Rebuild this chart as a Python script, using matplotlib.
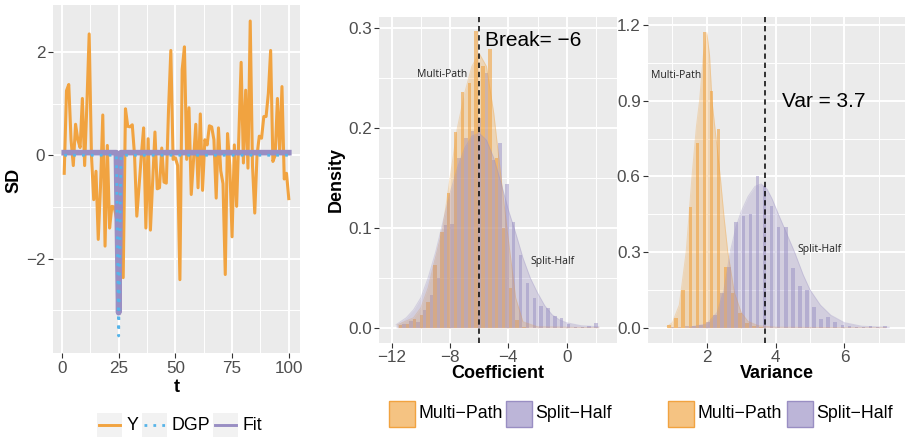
import numpy as np
import matplotlib
matplotlib.use("Agg")
import matplotlib.pyplot as plt
from matplotlib.patches import Rectangle
from matplotlib.lines import Line2D
from matplotlib.ticker import FormatStrFormatter

plt.rcParams['font.family'] = ['Liberation Sans', 'DejaVu Sans']

# ---------------- data ----------------
# time series panel
t = list(range(1, 101))
y_obs = [-0.35, 1.25, 1.37, 0.3, -0.2, 0.6, 0.3, 0.15, 1.1, -0.2,
         1.0, 2.35, 0.0, -0.86, -0.31, -1.63, -0.6, 0.78, -1.76, 0.19,
         -1.41, -0.99, -1.0, -1.21, -1.3, -0.8, -2.37, 0.9, 0.56, 0.55,
         0.59, 0.0, -1.18, -0.6, 0.0, 0.53, -1.41, 0.32, -1.45, -0.5,
         0.45, -0.65, -0.63, 0.14, -0.52, -0.54, 0.9, 2.03, -0.08, -0.05,
         -0.2, -2.41, 1.66, 2.1, -0.08, 0.92, -0.76, -0.1, 0.6, -0.63,
         0.8, -0.68, 0.3, 0.2, 0.57, 0.55, 0.3, -0.83, 0.53, -0.3,
         -0.55, -2.31, 0.42, -0.2, -1.58, 0.2, -0.99, 0.4, 1.8, -0.15,
         1.26, -0.25, 2.6, -0.2, -1.12, 0.0, 0.37, 0.33, 0.75, 0.75,
         1.2, 2.03, -0.12, 0.0, 1.1, 0.05, 1.33, -0.46, -0.35, -0.84]
dgp_t = [1, 24, 25, 26, 100]
dgp_v = [0.0, 0.0, -3.5, 0.0, 0.0]
fit_t = [1, 24, 25, 26, 100]
fit_v = [0.05, 0.05, -3.05, 0.05, 0.05]

# coefficient histograms (density per bin)
coef_bin_start, coef_bin_width = -11.5, 0.47
coef_multi = [0.003, 0.004, 0.009, 0.013, 0.026, 0.063, 0.096, 0.135, 0.196, 0.236,
              0.245, 0.297, 0.262, 0.279, 0.17, 0.10, 0.04, 0.008, 0.001, 0.0,
              0.0, 0.0, 0.0, 0.0, 0.0, 0.0, 0.0, 0.0, 0.0]
coef_split = [0.004, 0.007, 0.006, 0.018, 0.033, 0.05, 0.103, 0.104, 0.17, 0.19,
              0.197, 0.21, 0.255, 0.168, 0.185, 0.144, 0.106, 0.073, 0.045, 0.03,
              0.022, 0.02, 0.012, 0.01, 0.004, 0.001, 0.001, 0.002, 0.005]
# coefficient density curves
coef_dens_multi_x = [-11.6, -10.5, -10.0, -9.5, -9.0, -8.5, -8.0, -7.5, -7.0, -6.5,
                     -6.0, -5.5, -5.0, -4.5, -4.1, -3.5, -3.0, -2.0, 2.2]
coef_dens_multi_y = [0.003, 0.01, 0.02, 0.04, 0.07, 0.10, 0.15, 0.20, 0.235, 0.262,
                     0.275, 0.262, 0.215, 0.15, 0.10, 0.03, 0.006, 0.001, 0.0]
coef_dens_split_x = [-11.7, -11.0, -10.5, -10.0, -9.5, -9.0, -8.5, -8.0, -7.5, -7.0,
                     -6.5, -6.0, -5.5, -5.0, -4.5, -4.0, -3.5, -3.0, -2.5, -2.0,
                     -1.5, -1.0, -0.5, 0.0, 1.0, 2.2]
coef_dens_split_y = [0.003, 0.01, 0.018, 0.03, 0.05, 0.075, 0.105, 0.135, 0.16, 0.18,
                     0.192, 0.195, 0.188, 0.17, 0.145, 0.118, 0.095, 0.07, 0.05, 0.035,
                     0.022, 0.013, 0.008, 0.005, 0.002, 0.001]

# variance histograms
var_bin_start, var_bin_width = 0.8525, 0.2055
var_multi = [0.01, 0.037, 0.15, 0.48, 0.733, 1.174, 0.94, 0.786, 0.242, 0.139,
             0.057, 0.017, 0.008, 0.002, 0.0, 0.0, 0.0, 0.0, 0.0, 0.0,
             0.0, 0.0, 0.0, 0.0, 0.0, 0.0, 0.0, 0.0, 0.0, 0.0, 0.0]
var_split = [0.003, 0.003, 0.005, 0.005, 0.01, 0.024, 0.05, 0.136, 0.24, 0.42,
             0.443, 0.45, 0.603, 0.56, 0.484, 0.40, 0.40, 0.235, 0.167, 0.15,
             0.083, 0.034, 0.044, 0.024, 0.01, 0.005, 0.004, 0.003, 0.005, 0.004, 0.005]
var_dens_multi_x = [0.85, 1.0, 1.2, 1.4, 1.57, 1.7, 1.79, 1.9, 2.0, 2.08,
                    2.15, 2.27, 2.39, 2.5, 2.61, 2.8, 3.0, 3.2, 3.5, 4.0, 5.0, 7.2]
var_dens_multi_y = [0.005, 0.02, 0.09, 0.3, 0.6, 0.8, 0.9, 1.08, 1.17, 1.08,
                    0.9, 0.75, 0.6, 0.44, 0.3, 0.14, 0.06, 0.025, 0.008, 0.002, 0.001, 0.0]
var_dens_split_x = [1.5, 2.0, 2.3, 2.5, 2.68, 2.85, 3.0, 3.2, 3.4, 3.58,
                    3.75, 3.9, 4.08, 4.3, 4.55, 4.8, 5.0, 5.3, 5.6, 6.0, 6.5, 7.0, 7.3]
var_dens_split_y = [0.002, 0.015, 0.06, 0.15, 0.3, 0.4, 0.46, 0.52, 0.56, 0.57,
                    0.55, 0.51, 0.45, 0.38, 0.3, 0.21, 0.15, 0.09, 0.05, 0.02, 0.006, 0.003, 0.002]

coef_break = -6
var_true = 3.7

# ---------------- style ----------------
ORANGE = '#f1a340'
PURPLE = '#998ec3'
SKY = '#56b4e9'
BG = '#ebebeb'
TXT = '#4d4d4d'

W, H = 905, 438
fig = plt.figure(figsize=(W / 100, H / 100), dpi=100)


def fx(px):
    return px / W


def fy(py):
    return 1 - py / H


def add_axes_px(left, top, right, bottom):
    return fig.add_axes([fx(left), fy(bottom), (right - left) / W, (bottom - top) / H])


def gg_theme(ax, xmaj, xmin, ymaj, ymin, xlim, ylim):
    ax.set_facecolor(BG)
    for s in ax.spines.values():
        s.set_visible(False)
    ax.set_xlim(xlim)
    ax.set_ylim(ylim)
    ax.set_xticks(xmaj)
    ax.set_xticks(xmin, minor=True)
    ax.set_yticks(ymaj)
    ax.set_yticks(ymin, minor=True)
    ax.grid(True, which='major', color='white', lw=1.4)
    ax.grid(True, which='minor', color='white', lw=0.7)
    ax.set_axisbelow(True)
    ax.tick_params(which='major', length=3.5, width=0.8, color='#333333',
                   labelsize=12.3, labelcolor=TXT, pad=2)
    ax.tick_params(which='minor', length=0)


# ---------------- panel 1: series ----------------
ax1 = add_axes_px(53, 5, 300, 353)
gg_theme(ax1, [0, 25, 50, 75, 100], [12.5, 37.5, 62.5, 87.5],
         [-2, 0, 2], [-3, -1, 1], (-3.95, 104.95), (-3.83, 2.91))
ax1.plot(t, y_obs, color=ORANGE, lw=2.2, solid_joinstyle='round', zorder=3)
ax1.plot(fit_t, fit_v, color=PURPLE, lw=4.1, solid_joinstyle='round', zorder=4)
ax1.plot(dgp_t, dgp_v, color=SKY, lw=2.0, linestyle=(0, (1, 2.2)), zorder=5)

fig.text(fx(14), fy(180), 'SD', rotation=90, ha='center', va='center',
         fontsize=13, fontweight='bold')
fig.text(fx(177), fy(387), 't', ha='center', va='center', fontsize=13, fontweight='bold')

# ---------------- panel 2: coefficient ----------------
ax2 = add_axes_px(379.3, 16.7, 616.7, 342.7)
gg_theme(ax2, [-12, -8, -4, 0], [-10, -6, -2, 2],
         [0.0, 0.1, 0.2, 0.3], [0.05, 0.15, 0.25], (-12.85, 3.43), (-0.015, 0.3117))
ax2.yaxis.set_major_formatter(FormatStrFormatter('%.1f'))
coef_left = coef_bin_start + coef_bin_width * np.arange(len(coef_multi))
ax2.bar(coef_left, coef_multi, width=coef_bin_width / 2, align='edge',
        color=ORANGE, alpha=0.6, lw=0, zorder=2)
ax2.bar(coef_left + coef_bin_width / 2, coef_split, width=coef_bin_width / 2, align='edge',
        color=PURPLE, alpha=0.5, lw=0, zorder=2)
ax2.fill_between(coef_dens_multi_x, coef_dens_multi_y, color=ORANGE, alpha=0.3, lw=0, zorder=3)
ax2.plot(coef_dens_multi_x, coef_dens_multi_y, color=ORANGE, alpha=0.3, lw=0.7, zorder=3)
ax2.fill_between(coef_dens_split_x, coef_dens_split_y, color=PURPLE, alpha=0.3, lw=0, zorder=3)
ax2.plot(coef_dens_split_x, coef_dens_split_y, color=PURPLE, alpha=0.3, lw=0.7, zorder=3)
ax2.axvline(coef_break, color='black', lw=1.1, linestyle=(0, (3.5, 2.5)), zorder=4)
ax2.text(-5.6, 0.2876, 'Break= \u22126', fontsize=15, ha='left', va='center', zorder=5)
ax2.text(-8.57, 0.254, 'Multi-Path', family=['Open Sans', 'DejaVu Sans'], fontsize=7.5,
         ha='center', va='center', color='#222222', zorder=5)
ax2.text(-0.98, 0.066, 'Split-Half', family=['Open Sans', 'DejaVu Sans'], fontsize=7.5,
         ha='center', va='center', color='#222222', zorder=5)

fig.text(fx(336.7), fy(180), 'Density', rotation=90, ha='center', va='center',
         fontsize=13, fontweight='bold')
fig.text(fx(498), fy(374), 'Coefficient', ha='center', va='center',
         fontsize=13, fontweight='bold')

# ---------------- panel 3: variance ----------------
ax3 = add_axes_px(648.3, 16.7, 905, 342.7)
gg_theme(ax3, [2, 4, 6], [1, 3, 5, 7],
         [0.0, 0.3, 0.6, 0.9, 1.2], [0.15, 0.45, 0.75, 1.05], (0.30, 7.76), (-0.0595, 1.233))
ax3.yaxis.set_major_formatter(FormatStrFormatter('%.1f'))
var_left = var_bin_start + var_bin_width * np.arange(len(var_multi))
ax3.bar(var_left, var_multi, width=var_bin_width / 2, align='edge',
        color=ORANGE, alpha=0.6, lw=0, zorder=2)
ax3.bar(var_left + var_bin_width / 2, var_split, width=var_bin_width / 2, align='edge',
        color=PURPLE, alpha=0.5, lw=0, zorder=2)
ax3.fill_between(var_dens_multi_x, var_dens_multi_y, color=ORANGE, alpha=0.3, lw=0, zorder=3)
ax3.plot(var_dens_multi_x, var_dens_multi_y, color=ORANGE, alpha=0.3, lw=0.7, zorder=3)
ax3.fill_between(var_dens_split_x, var_dens_split_y, color=PURPLE, alpha=0.3, lw=0, zorder=3)
ax3.plot(var_dens_split_x, var_dens_split_y, color=PURPLE, alpha=0.3, lw=0.7, zorder=3)
ax3.axvline(var_true, color='black', lw=1.1, linestyle=(0, (3.5, 2.5)), zorder=4)
ax3.text(4.18, 0.896, 'Var = 3.7', fontsize=15, ha='left', va='center', zorder=5)
ax3.text(1.1, 0.998, 'Multi-Path', family=['Open Sans', 'DejaVu Sans'], fontsize=7.5,
         ha='center', va='center', color='#222222', zorder=5)
ax3.text(5.27, 0.31, 'Split-Half', family=['Open Sans', 'DejaVu Sans'], fontsize=7.5,
         ha='center', va='center', color='#222222', zorder=5)

fig.text(fx(776.6), fy(374), 'Variance', ha='center', va='center',
         fontsize=13, fontweight='bold')

# ---------------- legends ----------------
def line_key(x0, label, tx, color, lw, ls):
    fig.add_artist(Rectangle((fx(x0), fy(437)), 25 / W, 24 / H, transform=fig.transFigure,
                             facecolor='#f2f2f2', edgecolor='none'))
    fig.add_artist(Line2D([fx(x0 + 2), fx(x0 + 23)], [fy(425), fy(425)],
                          transform=fig.transFigure, color=color, lw=lw, linestyle=ls))
    fig.text(fx(tx), fy(425), label, ha='left', va='center', fontsize=12.8)


line_key(97, 'Y', 126.5, ORANGE, 2.1, '-')
line_key(142, 'DGP', 171.5, SKY, 2.0, (0, (1, 2.2)))
line_key(213, 'Fit', 242.5, PURPLE, 2.1, '-')


def fill_key(x0, label, tx, color):
    fig.add_artist(Rectangle((fx(x0), fy(427)), 26 / W, 26 / H, transform=fig.transFigure,
                             facecolor=color, alpha=0.65, edgecolor='none'))
    fig.add_artist(Rectangle((fx(x0), fy(427)), 26 / W, 26 / H, transform=fig.transFigure,
                             facecolor='none', edgecolor=color, lw=1.0))
    fig.text(fx(tx), fy(414), label, ha='left', va='center', fontsize=12.8)


fill_key(388.5, 'Multi\u2212Path', 418, ORANGE)
fill_key(506, 'Split\u2212Half', 535.5, PURPLE)
fill_key(668, 'Multi\u2212Path', 697.5, ORANGE)
fill_key(787, 'Split\u2212Half', 816, PURPLE)

fig.savefig('out.png', dpi=100)
